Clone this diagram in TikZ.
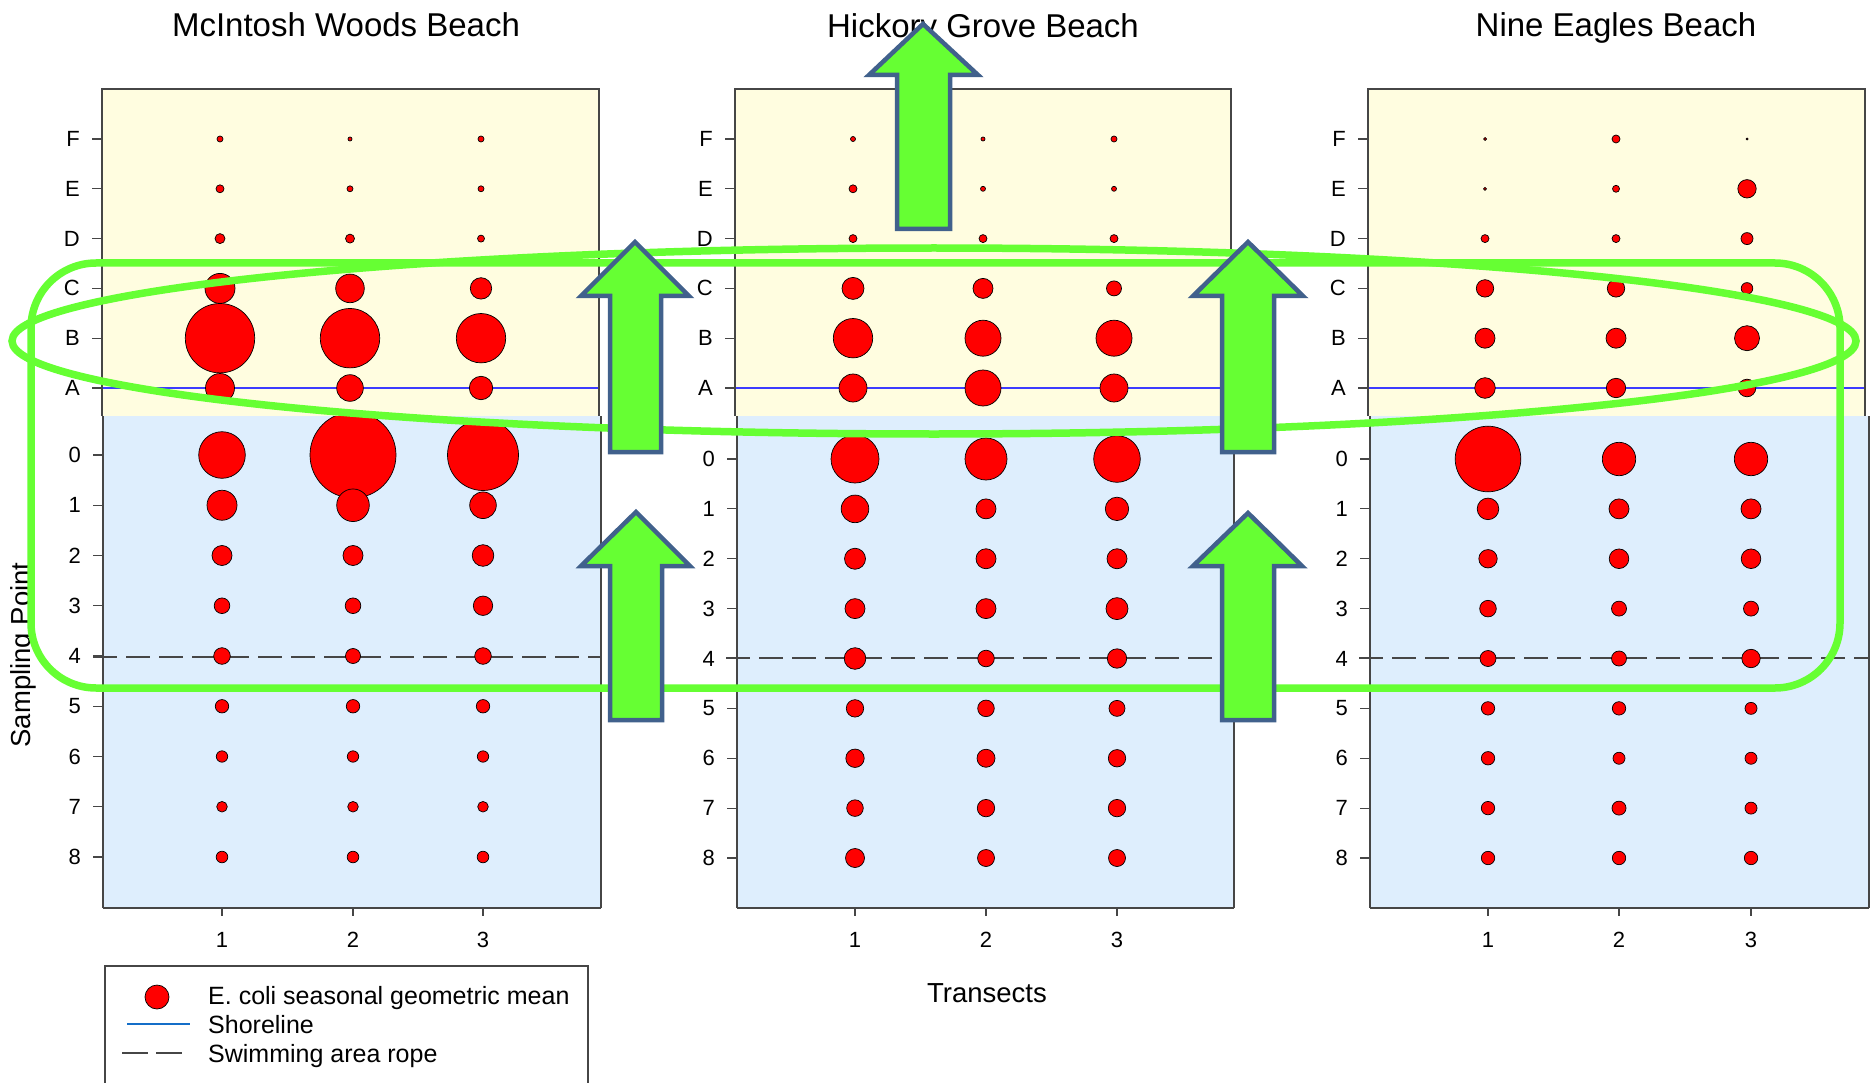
\documentclass[tikz,border=0pt]{standalone}
\usepackage{fontspec}
\setmainfont{Liberation Sans}
\definecolor{yelbg}{RGB}{255,253,224}
\definecolor{bluebg}{RGB}{222,238,253}
\definecolor{framegray}{RGB}{70,70,70}
\definecolor{shore}{RGB}{60,60,255}
\definecolor{shoreleg}{RGB}{20,110,200}
\definecolor{hlgreen}{RGB}{102,255,51}
\definecolor{arrowblue}{RGB}{65,97,140}
\tikzset{
  framestyle/.style={draw=framegray, line width=1.3pt},
  axisstyle/.style={draw=framegray, line width=2.5pt},
  tickstyle/.style={draw=framegray, line width=1.2pt},
  dotstyle/.style={fill=red, draw=black, line width=0.7pt},
  shorestyle/.style={draw=shore, line width=1.6pt},
  ropestyle/.style={draw=framegray, line width=1.8pt, dash pattern=on 24pt off 9pt},
  greenline/.style={draw=hlgreen, line width=7.5pt},
  bigarrow/.style={fill=hlgreen, draw=arrowblue, line width=4.5pt, line join=miter},
  ylab/.style={font=\fontsize{22pt}{26pt}\selectfont, anchor=east, inner sep=0pt},
  xlab/.style={font=\fontsize{22pt}{26pt}\selectfont, inner sep=0pt},
  titlestyle/.style={font=\fontsize{33pt}{39pt}\selectfont, anchor=base, inner sep=0pt},
  axtitle/.style={font=\fontsize{27.5pt}{32pt}\selectfont, anchor=base, inner sep=0pt},
  legtext/.style={font=\fontsize{25pt}{30pt}\selectfont, anchor=base west, inner sep=0pt},
}
\begin{document}
\begin{tikzpicture}[x=1pt,y=-1pt]
\clip (0,0) rectangle (1871,1083);
\fill[white] (0,0) rectangle (1871,1083);

% ---------- Panel geometry loop ----------
\foreach \L/\R/\Lb/\Rb/\yz/\st/\yr/\xA/\xB/\xC in
  {102/599/103/601/455/50.25/657/222/353/483,
   735/1231/737/1234/459/49.875/658/855/986/1117,
   1368/1865/1370/1869/459/49.875/658/1488/1619/1751}{
  \fill[yelbg] (\L,89) rectangle (\R,416);
  \fill[bluebg] (\Lb,416) rectangle (\Rb,908);
  \draw[shorestyle] (\L,388) -- (\R,388);
  \draw[ropestyle] ({\L-9},\yr) -- (\Rb,\yr);
  \draw[framestyle] (\L,416) -- (\L,89) -- (\R,89) -- (\R,416);
  \draw[framestyle] (\Lb,416) -- (\Lb,908);
  \draw[framestyle] (\Rb,416) -- (\Rb,908);
  \draw[axisstyle] (\Lb,908) -- (\Rb,908);
  \foreach \lab [count=\i from 0] in {F,E,D,C,B,A}{
    \draw[tickstyle] ({\L-10},{139+49.8*\i}) -- (\L,{139+49.8*\i});
    \node[ylab] (yl-\L-\lab) at ({\L-22},{139+49.8*\i}) {\lab};
  }
  \foreach \lab [count=\i from 0] in {0,...,8}{
    \draw[tickstyle] ({\Lb-10},{\yz+\st*\i}) -- (\Lb,{\yz+\st*\i});
    \node[ylab] (yn-\L-\lab) at ({\Lb-22},{\yz+\st*\i}) {\lab};
  }
  \foreach \xx/\lab in {\xA/1,\xB/2,\xC/3}{
    \draw[tickstyle] (\xx,908) -- (\xx,916);
    \node[xlab] (xl-\L-\lab) at (\xx,940) {\lab};
  }
}

% ---------- Dots: top (F..A) ----------
\foreach \x/\rs in {
  220/{3,4,5,15,34.7,14.5}, 350/{2,3,4.5,14.3,29.7,13.3}, 481/{3,3,3.5,10.7,24.7,11.7},
  853/{2.5,4,4,11,19.7,14}, 983/{2,2.5,4,10,18,18}, 1114/{3,2.5,4,7.5,18,14},
  1485/{1.5,1.5,4,8.7,10,10.3}, 1616/{4,3.5,4,8.7,10,9.7}, 1747/{1,9.2,6,5.8,12.5,8.8}}{
  \foreach \r [count=\i from 0] in \rs {
    \filldraw[dotstyle] (\x,{139+49.8*\i}) circle[radius=\r pt];
  }
}

% ---------- Dots: bottom (0..8) ----------
\begin{scope}
\clip (103,416) rectangle (601,908);
\foreach \x/\rs in {
  222/{23.3,15,10,7.8,8.3,6.7,5.7,5.3,5.8},
  353/{43,16.3,10,7.8,7.5,6.7,5.7,5.3,5.8},
  483/{35.5,13.3,10.8,9.7,8.3,6.7,5.7,5.3,5.8}}{
  \foreach \r [count=\i from 0] in \rs {
    \filldraw[dotstyle] (\x,{455+50.25*\i}) circle[radius=\r pt];
  }
}
\end{scope}
\foreach \x/\rs in {
  855/{24,13.8,10.5,10,10.8,8.7,9.2,8.3,9.5},
  986/{21,10,10,10,8.3,8.3,9,8.7,8.5},
  1117/{23.3,11.7,10,11,9.7,8,8.7,8.7,8.5},
  1488/{32.8,10.8,9.2,8.3,8,6.7,6.7,6.7,6.7},
  1619/{16.7,10,9.8,7.5,7.5,6.7,6,7,6.7},
  1751/{16.7,10,9.8,7.5,9.2,6,6,6,6.7}}{
  \foreach \r [count=\i from 0] in \rs {
    \filldraw[dotstyle] (\x,{459+49.875*\i}) circle[radius=\r pt];
  }
}

% ---------- Titles and axis titles ----------
\node[titlestyle] (t1) at (346,37) {McIntosh Woods Beach};
\node[titlestyle] (t2) at (983,38) {Hickory Grove Beach};
\node[titlestyle] (t3) at (1616,37) {Nine Eagles Beach};
\node[axtitle] (xt) at (987,1002) {Transects};
\node[axtitle, rotate=90] (yt) at (30,655) {Sampling Point};

% ---------- Legend ----------
\draw[framestyle, line width=1.5pt] (105,1095) -- (105,966) -- (588,966) -- (588,1095);
\filldraw[dotstyle] (157,997) circle[radius=12pt];
\draw[draw=shoreleg, line width=2.5pt] (127,1024) -- (190,1024);
\draw[draw=framegray, line width=1.8pt, dash pattern=on 26pt off 8pt] (122,1053) -- (182,1053);
\node[legtext] (lg1) at (208,1004) {E. coli seasonal geometric mean};
\node[legtext] (lg2) at (208,1033) {Shoreline};
\node[legtext] (lg3) at (208,1062) {Swimming area rope};

% ---------- Green highlights ----------
\draw[greenline] (934,341) ellipse [x radius=922pt, y radius=93pt];
\draw[greenline, rounded corners=65pt] (31,263) rectangle (1840,688);

% ---------- Block arrows ----------
\draw[bigarrow] (610,452) -- (610,296) -- (581,296) -- (635,242) -- (689,296) -- (661,296) -- (661,452) -- cycle;
\draw[bigarrow] (610,720) -- (610,566) -- (581,566) -- (636,512) -- (690,566) -- (662,566) -- (662,720) -- cycle;
\draw[bigarrow] (1222,452) -- (1222,296) -- (1193,296) -- (1248,242) -- (1303,296) -- (1274,296) -- (1274,452) -- cycle;
\draw[bigarrow] (1222,720) -- (1222,566) -- (1193,566) -- (1248,513) -- (1302,566) -- (1274,566) -- (1274,720) -- cycle;
\draw[bigarrow] (897,229) -- (897,75) -- (869,75) -- (923,24) -- (978,75) -- (950,75) -- (950,229) -- cycle;
\end{tikzpicture}
\end{document}
